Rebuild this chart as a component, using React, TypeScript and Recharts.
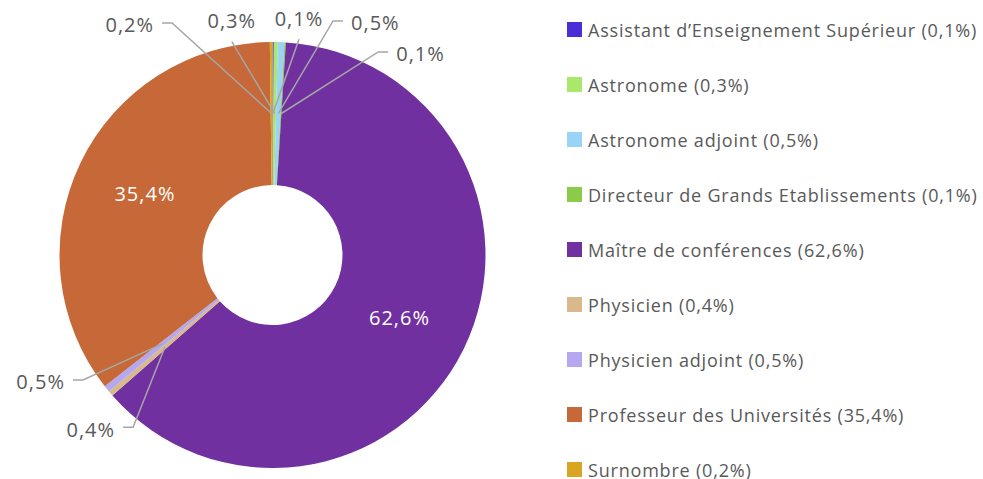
import { Cell, Legend, Pie, PieChart } from "recharts";

const categories = [
  "Assistant d’Enseignement Supérieur",
  "Astronome",
  "Astronome adjoint",
  "Directeur de Grands Etablissements",
  "Maître de conférences",
  "Physicien",
  "Physicien adjoint",
  "Professeur des Universités",
  "Surnombre",
];
const shares = [0.1, 0.3, 0.5, 0.1, 62.6, 0.4, 0.5, 35.4, 0.2];
const colors = [
  "#4B2ED6",
  "#A9E86A",
  "#99D4F7",
  "#8BCB48",
  "#7030A0",
  "#D9B98A",
  "#B5A8F0",
  "#C66837",
  "#DAA520",
];

const data = categories.map((name, i) => ({ name, value: shares[i] }));

const FONT = "'Open Sans', sans-serif";
const TEXT = "#595959";
const LINE = "#A6A6A6";
const RAD = Math.PI / 180;

// where the small slices put their labels: angle (deg, ccw from east),
// distance as a fraction of the outer radius, and which way the text goes
const labelLayout: Record<number, { angle: number; dist: number; side: "up" | "left" | "right" }> = {
  0: { angle: 83, dist: 1.02, side: "up" },
  1: { angle: 100.8, dist: 1.02, side: "up" },
  2: { angle: 75.5, dist: 1.135, side: "right" },
  3: { angle: 62.5, dist: 1.075, side: "right" },
  5: { angle: 231, dist: 1.04, side: "left" },
  6: { angle: 213.4, dist: 1.066, side: "left" },
  8: { angle: 113.4, dist: 1.187, side: "left" },
};

const fmt = (v: number) => `${v.toFixed(1).replace(".", ",")}%`;

const labelText = { fontSize: 20, fontFamily: FONT, letterSpacing: 1 };

function renderLabel(props: any) {
  const { cx, cy, midAngle, innerRadius, outerRadius, index, value } = props;
  const midR = (innerRadius + outerRadius) / 2;
  const sx = cx + midR * Math.cos(-midAngle * RAD);
  const sy = cy + midR * Math.sin(-midAngle * RAD);
  const lay = labelLayout[index];
  if (!lay) {
    return (
      <text x={sx} y={sy} fill="#fff" {...labelText} textAnchor="middle" dominantBaseline="central">
        {fmt(value)}
      </text>
    );
  }
  const ex = cx + outerRadius * lay.dist * Math.cos(lay.angle * RAD);
  const ey = cy - outerRadius * lay.dist * Math.sin(lay.angle * RAD);
  if (lay.side === "up") {
    return (
      <g>
        <polyline points={`${sx},${sy} ${ex},${ey}`} stroke={LINE} strokeWidth={1.5} fill="none" />
        <text x={ex} y={ey - 21} fill={TEXT} {...labelText} textAnchor="middle" dominantBaseline="central">
          {fmt(value)}
        </text>
      </g>
    );
  }
  const dir = lay.side === "right" ? 1 : -1;
  return (
    <g>
      <polyline points={`${sx},${sy} ${ex},${ey} ${ex + dir * 10},${ey}`} stroke={LINE} strokeWidth={1.5} fill="none" />
      <text
        x={ex + dir * 18}
        y={ey + 2}
        fill={TEXT}
        {...labelText}
        textAnchor={dir > 0 ? "start" : "end"}
        dominantBaseline="central"
      >
        {fmt(value)}
      </text>
    </g>
  );
}

function renderLegend() {
  return (
    <ul style={{ listStyle: "none", margin: 0, padding: 0 }}>
      {data.map((d, i) => (
        <li key={d.name} style={{ height: 55, display: "flex", alignItems: "center" }}>
          <span style={{ width: 15, height: 15, background: colors[i], marginRight: 6, flexShrink: 0 }} />
          <span style={{ fontFamily: FONT, fontSize: 18, letterSpacing: 0.8, color: TEXT, whiteSpace: "nowrap" }}>
            {d.name} ({fmt(d.value)})
          </span>
        </li>
      ))}
    </ul>
  );
}

export default function App() {
  return (
    <div style={{ position: "absolute", left: 0, top: 0, background: "#fff" }}>
      <PieChart width={983} height={479} margin={{ top: 0, right: 0, bottom: 0, left: 0 }}>
        <Pie
          data={data}
          dataKey="value"
          nameKey="name"
          cx={272.5}
          cy={255}
          innerRadius={70}
          outerRadius={213}
          startAngle={90}
          endAngle={-270}
          stroke="none"
          label={renderLabel}
          labelLine={false}
          isAnimationActive={false}
        >
          {data.map((d, i) => (
            <Cell key={d.name} fill={colors[i]} />
          ))}
        </Pie>
        <Legend
          layout="vertical"
          align="right"
          verticalAlign="top"
          content={renderLegend}
          wrapperStyle={{ left: 567, top: 2, width: 416 }}
        />
      </PieChart>
    </div>
  );
}
